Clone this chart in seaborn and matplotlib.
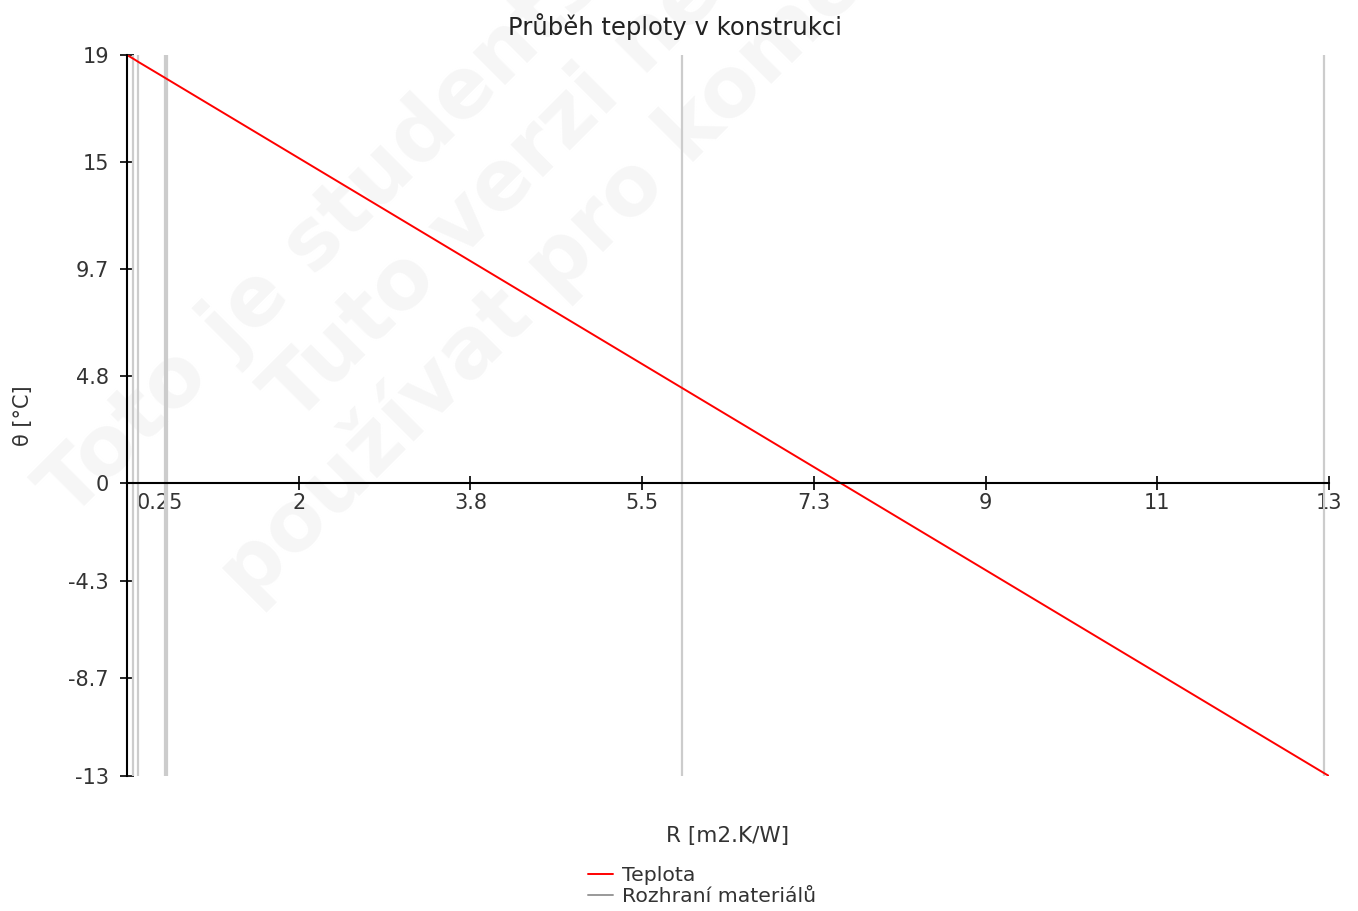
import numpy as np
import pandas as pd
import matplotlib
matplotlib.use("Agg")
import matplotlib.pyplot as plt
import seaborn as sns
from matplotlib.lines import Line2D

# ===== DATA =====
# temperature profile through the construction (thermal resistance vs temperature)
R_POINTS = [0.0, 0.07, 0.12, 0.41, 0.43, 6.0, 12.95, 13.0]
TEMPS = [19.0, 18.83, 18.70, 17.99, 17.94, 4.23, -12.88, -13.0]
# material interfaces
R_INTERFACES = [0.07, 0.12, 0.41, 0.43, 6.0, 12.95]

X_TICK_LABELS = ["0.25", "2", "3.8", "5.5", "7.3", "9", "11", "13"]
Y_TICK_LABELS = ["19", "15", "9.7", "4.8", "0", "-4.3", "-8.7", "-13"]

TITLE = "Průběh teploty v konstrukci"
XLABEL = "R [m2.K/W]"
YLABEL = "θ [°C]"
WATERMARK = ["Toto je studentská verze", "Tuto verzi nelze", "používat pro komerční účely"]
# ================

sns.set_theme(style="white")
plt.rcParams["font.family"] = ["DejaVu Sans"]

R_MIN, R_MAX = 0.0, 13.0
T_MIN, T_MAX = -13.0, 19.0

fig = plt.figure(figsize=(13.58, 9.11), dpi=100)
ax = fig.add_axes([127 / 1358, 1 - 776 / 911, 1202 / 1358, 721 / 911])
ax.patch.set_alpha(0)

# watermark behind everything
wm_pos = [(70, 520), (295, 425), (250, 605)]
for (px, py), txt in zip(wm_pos, WATERMARK):
    fig.text(px / 1358, 1 - py / 911, txt, rotation=45, rotation_mode="anchor",
             ha="left", va="baseline", fontsize=60, fontweight="bold",
             color="#f6f6f6", zorder=-5)

for r in R_INTERFACES:
    ax.axvline(r, color="#cccccc", lw=1.6, zorder=1)

df = pd.DataFrame({"R": R_POINTS, "T": TEMPS})
sns.lineplot(data=df, x="R", y="T", color="red", lw=1.4, ax=ax, zorder=3,
             legend=False)

ax.set_xlim(R_MIN, R_MAX)
ax.set_ylim(T_MIN, T_MAX)

for s in ["top", "right"]:
    ax.spines[s].set_visible(False)
ax.spines["bottom"].set_position(("data", 0))
ax.spines["left"].set_position(("data", 0))
for s in ["bottom", "left"]:
    ax.spines[s].set_color("black")
    ax.spines[s].set_linewidth(1.5)
    ax.spines[s].set_zorder(4)

xt = [0.36] + list(np.linspace(R_MIN, R_MAX, 8)[1:])
ax.set_xticks(xt)
ax.set_xticklabels(X_TICK_LABELS)
yt = list(np.linspace(T_MAX, 0, 5)) + list(np.linspace(0, T_MIN, 4)[1:])
ax.set_yticks(yt)
ax.set_yticklabels(Y_TICK_LABELS)
ax.tick_params(axis="both", direction="inout", length=10, width=1.2,
               color="black", labelcolor="#333333", labelsize=15,
               bottom=True, left=True)
ax.tick_params(axis="x", pad=2)
ax.tick_params(axis="y", pad=8)
ax.xaxis.get_major_ticks()[0].tick1line.set_visible(False)
ax.grid(False)

ax.set_xlabel(XLABEL, fontsize=15.5, color="#333333")
ax.xaxis.set_label_coords(0.5, -0.069)
ax.set_ylabel(YLABEL, fontsize=15, color="#333333")
ax.yaxis.set_label_coords(-0.078, 0.5)

fig.text(675 / 1358, 1 - 27 / 911, TITLE, ha="center", va="center",
         fontsize=17.5, color="#222222")

handles = [Line2D([], [], color="red", lw=1.4),
           Line2D([], [], color="#999999", lw=1.4)]
fig.legend(handles, ["Teplota", "Rozhraní materiálů"], loc="upper left",
           bbox_to_anchor=(578 / 1358, 1 - 856 / 911), frameon=False,
           fontsize=14.7, labelcolor="#333333", handlelength=1.2,
           handletextpad=0.45, labelspacing=0.08, borderpad=0)

fig.savefig("out.png", dpi=100)
